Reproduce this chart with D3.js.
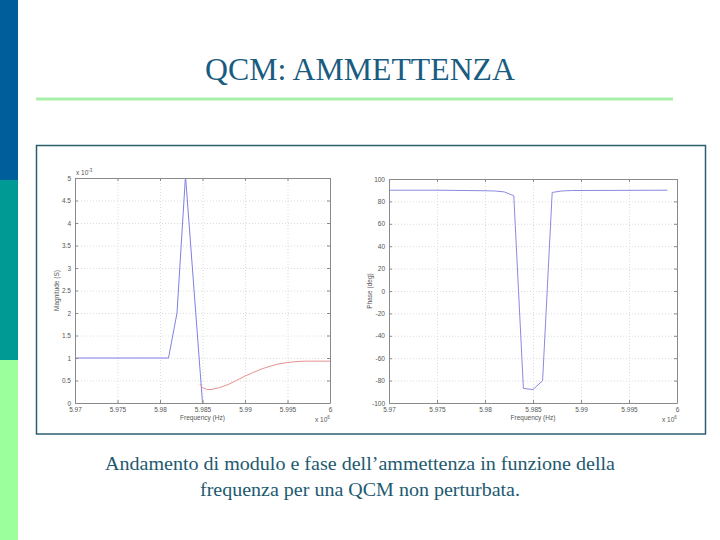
<!DOCTYPE html>
<html>
<head>
<meta charset="utf-8">
<title>QCM: AMMETTENZA</title>
<script src="https://d3js.org/d3.v7.min.js"></script>
<style>
  body { margin: 0; background: #fff; }
  svg { display: block; }
  .tick text { font-family: "Liberation Sans", Arial, sans-serif; font-size: 6.5px; fill: #555; }
  .lbl { font-family: "Liberation Sans", Arial, sans-serif; font-size: 6.5px; fill: #555; }
  .serif { font-family: "Liberation Serif", "DejaVu Serif", serif; }
</style>
</head>
<body>
<script>

// data (frequency in units of 1e6 Hz)
var mag_freq  = [5.970, 5.981, 5.982, 5.983, 5.985];
var mag_value = [1.00, 1.00, 2.00, 5.05, 0.00];          // x 1e-3 S, blue branch

var fit_freq  = [5.9847, 5.985, 5.9855, 5.986, 5.987, 5.988, 5.989, 5.990, 5.991, 5.992, 5.993, 5.994, 5.995, 5.996, 5.997, 6.000];
var fit_value = [0.42, 0.34, 0.30, 0.30, 0.34, 0.41, 0.50, 0.60, 0.68, 0.76, 0.82, 0.87, 0.90, 0.92, 0.93, 0.93];   // red branch

var ph_freq  = [5.970, 5.975, 5.980, 5.981, 5.982, 5.983, 5.984, 5.985, 5.986, 5.987, 5.988, 5.989, 5.999];
var ph_value = [90, 90, 89.5, 89.3, 88.5, 85, -87, -88, -80, 88, 89.3, 89.7, 90];

var x_ticks   = [5.97, 5.975, 5.98, 5.985, 5.99, 5.995, 6];
var mag_ticks = [0, 0.5, 1, 1.5, 2, 2.5, 3, 3.5, 4, 4.5, 5];
var ph_ticks  = [-100, -80, -60, -40, -20, 0, 20, 40, 60, 80, 100];

var svg = d3.select('body').append('svg')
    .attr('width', 720)
    .attr('height', 540);

// slide decoration
var side_colors = ['#005f9b', '#009a95', '#9bff9b'];
svg.selectAll('rect.side')
    .data(side_colors)
    .enter()
    .append('rect')
    .attr('class', 'side')
    .attr('x', 0)
    .attr('y', function (d, i) { return i * 180; })
    .attr('width', 18)
    .attr('height', 180)
    .attr('fill', function (d) { return d; });

svg.append('text')
    .attr('class', 'serif')
    .attr('x', 360)
    .attr('y', 80)
    .attr('text-anchor', 'middle')
    .attr('textLength', 310)
    .attr('lengthAdjust', 'spacingAndGlyphs')
    .style('font-size', '32px')
    .attr('fill', '#1a5c80')
    .text('QCM: AMMETTENZA');

svg.append('rect')
    .attr('x', 36).attr('y', 97.5)
    .attr('width', 637).attr('height', 3)
    .attr('fill', '#a9efa9');

// picture frame
svg.append('rect')
    .attr('x', 36.5).attr('y', 145.5)
    .attr('width', 669).attr('height', 288.5)
    .attr('fill', '#fff')
    .attr('stroke', '#2b5f6e')
    .attr('stroke-width', 1.5);

var caption = ['Andamento di modulo e fase dell\u2019ammettenza in funzione della',
               'frequenza per una QCM non perturbata.'];
var caption_width = [510, 320];
svg.selectAll('text.cap')
    .data(caption)
    .enter()
    .append('text')
    .attr('class', 'cap serif')
    .attr('x', 360)
    .attr('y', function (d, i) { return 470 + i * 26; })
    .attr('text-anchor', 'middle')
    .attr('textLength', function (d, i) { return caption_width[i]; })
    .attr('lengthAdjust', 'spacingAndGlyphs')
    .style('font-size', '19px')
    .attr('fill', '#1d5a70')
    .text(function (d) { return d; });

// one matlab-like axes
function draw_axes(box, ydomain, yticks, ylabel, yexp, series) {
    var x = d3.scaleLinear().domain([5.97, 6]).range([box.left, box.right]);
    var y = d3.scaleLinear().domain(ydomain).range([box.bottom, box.top]);
    var w = box.right - box.left;
    var h = box.bottom - box.top;

    var g = svg.append('g');

    // grid
    g.append('g')
        .attr('transform', 'translate(0,' + box.bottom + ')')
        .call(d3.axisBottom(x).tickValues(x_ticks).tickSize(-h).tickFormat(''))
        .call(function (s) {
            s.select('.domain').remove();
            s.selectAll('line').attr('stroke', '#dcdcdc').attr('stroke-dasharray', '1,2');
        });
    g.append('g')
        .attr('transform', 'translate(' + box.left + ',0)')
        .call(d3.axisLeft(y).tickValues(yticks).tickSize(-w).tickFormat(''))
        .call(function (s) {
            s.select('.domain').remove();
            s.selectAll('line').attr('stroke', '#dcdcdc').attr('stroke-dasharray', '1,2');
        });

    // lines, clipped to the axes
    var clip_id = 'clip' + box.left;
    svg.append('clipPath').attr('id', clip_id)
        .append('rect')
        .attr('x', box.left).attr('y', box.top)
        .attr('width', w).attr('height', h);

    var line = d3.line()
        .x(function (d) { return x(d[0]); })
        .y(function (d) { return y(d[1]); });

    series.forEach(function (s) {
        g.append('path')
            .datum(d3.zip(s.xs, s.ys))
            .attr('clip-path', 'url(#' + clip_id + ')')
            .attr('fill', 'none')
            .attr('stroke', s.color)
            .attr('stroke-width', 1)
            .attr('d', line);
    });

    // axes with inward ticks on all sides
    var fmt_x = function (d) { return String(+d.toFixed(3)); };
    var fmt_y = function (d) { return String(d); };
    g.append('g')
        .attr('transform', 'translate(0,' + box.bottom + ')')
        .call(d3.axisBottom(x).tickValues(x_ticks).tickSizeInner(-3).tickSizeOuter(0).tickPadding(4).tickFormat(fmt_x));
    g.append('g')
        .attr('transform', 'translate(0,' + box.top + ')')
        .call(d3.axisTop(x).tickValues(x_ticks).tickSizeInner(-3).tickSizeOuter(0).tickFormat(''));
    g.append('g')
        .attr('transform', 'translate(' + box.left + ',0)')
        .call(d3.axisLeft(y).tickValues(yticks).tickSizeInner(-3).tickSizeOuter(0).tickPadding(4).tickFormat(fmt_y));
    g.append('g')
        .attr('transform', 'translate(' + box.right + ',0)')
        .call(d3.axisRight(y).tickValues(yticks).tickSizeInner(-3).tickSizeOuter(0).tickFormat(''));
    g.selectAll('.domain').attr('stroke', '#8a8a8a');
    g.selectAll('.tick line').filter(function () { return !d3.select(this).attr('stroke-dasharray'); })
        .attr('stroke', '#8a8a8a');

    // labels
    g.append('text').attr('class', 'lbl')
        .attr('x', (box.left + box.right) / 2)
        .attr('y', box.bottom + 17)
        .attr('text-anchor', 'middle')
        .text('Frequency (Hz)');
    g.append('text').attr('class', 'lbl')
        .attr('transform', 'translate(' + (box.left - box.ylab) + ',' + (box.top + box.bottom) / 2 + ') rotate(-90)')
        .attr('text-anchor', 'middle')
        .text(ylabel);

    var ex = g.append('text').attr('class', 'lbl')
        .attr('x', box.right - 15)
        .attr('y', box.bottom + 19);
    ex.append('tspan').text('x 10');
    ex.append('tspan').attr('dy', -3).style('font-size', '4.5px').text('6');

    if (yexp) {
        var ey = g.append('text').attr('class', 'lbl')
            .attr('x', box.left + 1)
            .attr('y', box.top - 3);
        ey.append('tspan').text('x 10');
        ey.append('tspan').attr('dy', -3).style('font-size', '4.5px').text(yexp);
    }
}

draw_axes({ left: 75, right: 330, top: 178, bottom: 403, ylab: 16 },
    [0, 5], mag_ticks, 'Magnitude (S)', '-3',
    [
        { xs: mag_freq, ys: mag_value, color: '#7f7fe6' },
        { xs: fit_freq, ys: fit_value, color: '#e89090' }
    ]);

draw_axes({ left: 389, right: 677, top: 179, bottom: 403, ylab: 17 },
    [-100, 100], ph_ticks, 'Phase (deg)', null,
    [
        { xs: ph_freq, ys: ph_value, color: '#8a8ae0' }
    ]);

</script>
</body>
</html>
